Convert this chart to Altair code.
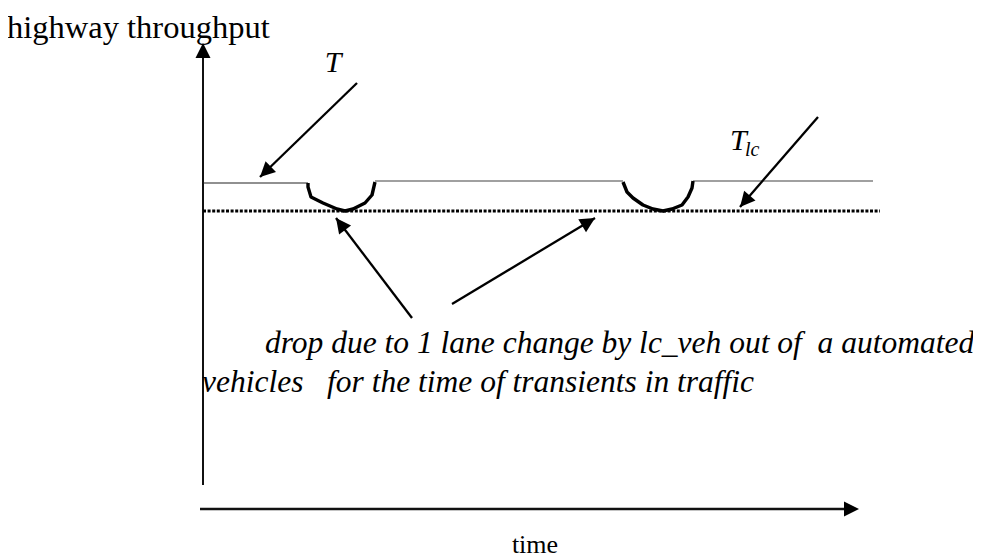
import math
import altair as alt
import pandas as pd

# ---- data (time t, throughput q, arbitrary schematic units) ----
# level of throughput T before/after the lane-change transients
T_level_t = [0, 105]
T_level_q = [326, 326]
# first transient dip
dip1_t = [105, 105, 108, 120, 134, 142, 150, 162, 169, 172]
dip1_q = [326, 322, 312, 306, 300, 298, 300, 306, 314, 327]
# throughput between / after dips
level2_t = [172, 420]
level3_t = [490, 670]
level_q = [328, 328]
# second transient dip
dip2_t = [420, 424, 430, 440, 450, 460, 469, 479, 485, 489, 490]
dip2_q = [327, 317, 311, 304, 300, 298, 300, 304, 312, 321, 328]
# reduced throughput T_lc (dotted)
Tlc_t = [0, 677]
Tlc_q = [298, 298]

# axes (start, end of shaft, arrow tip)
yaxis = dict(t=0, q0=24, q1=452, tip=466)
xaxis = dict(q=0, t0=-3, t1=642, tip=656)

# annotation arrows: start (t, q) -> tip (t, q)
arr_t0 = [154, 615, 209, 249]
arr_q0 = [426, 392, 191, 205]
arr_t1 = [57, 537, 133, 392]
arr_q1 = [332, 302, 291, 291]

X = alt.Scale(domain=[-195, 770])
Y = alt.Scale(domain=[-50, 501])
FONT = "Liberation Serif"


def xy(tf="t", qf="q"):
    return dict(x=alt.X(f"{tf}:Q", scale=X, axis=None),
                y=alt.Y(f"{qf}:Q", scale=Y, axis=None))


def line(ts, qs, **kw):
    df = pd.DataFrame({"t": ts, "q": qs, "i": range(len(ts))})
    return alt.Chart(df).mark_line(**kw).encode(order="i:Q", **xy())


layers = []

# axes shafts
ax = pd.DataFrame({
    "t": [yaxis["t"], xaxis["t0"]], "q": [yaxis["q0"], xaxis["q"]],
    "t2": [yaxis["t"], xaxis["t1"]], "q2": [yaxis["q1"], xaxis["q"]],
    "w": [2.0, 2.5]})
layers.append(alt.Chart(ax).mark_rule(color="#111").encode(
    x2="t2:Q", y2="q2:Q", strokeWidth=alt.StrokeWidth("w:Q", scale=None), **xy()))

# throughput levels and dips
layers.append(line(T_level_t, T_level_q, color="#222", strokeWidth=1.2))
layers.append(line(level2_t, level_q, color="#808080", strokeWidth=1.6))
layers.append(line(level3_t, level_q, color="#808080", strokeWidth=1.6))
layers.append(line(Tlc_t, Tlc_q, color="#000", strokeWidth=3, strokeDash=[3, 1.6]))
layers.append(line(dip1_t, dip1_q, color="#000", strokeWidth=3.4, strokeJoin="round"))
layers.append(line(dip2_t, dip2_q, color="#000", strokeWidth=3.4, strokeJoin="round"))

# annotation arrow shafts
arr = pd.DataFrame({"t": arr_t0, "q": arr_q0, "t2": arr_t1, "q2": arr_q1})
layers.append(alt.Chart(arr).mark_rule(color="#000", strokeWidth=2.3).encode(
    x2="t2:Q", y2="q2:Q", **xy()))

# arrowheads
heads_t, heads_q, heads_a = [], [], []
for a0, b0, a1, b1 in zip(arr_t0, arr_q0, arr_t1, arr_q1):
    heads_t.append(a1)
    heads_q.append(b1)
    heads_a.append(math.degrees(math.atan2(a1 - a0, b1 - b0)) % 360)
heads_t += [yaxis["t"], xaxis["tip"]]
heads_q += [yaxis["tip"], xaxis["q"]]
heads_a += [0, 90]
hd = pd.DataFrame({"t": heads_t, "q": heads_q, "a": heads_a})
layers.append(alt.Chart(hd).mark_point(
    shape="M0,0 L-0.5,1 L0.5,1 Z", filled=True, color="#000", opacity=1,
    size=900, strokeWidth=0).encode(
    angle=alt.Angle("a:Q", scale=None), **xy()))

# texts
def text(t, q, s, size, italic=False, align="left"):
    df = pd.DataFrame({"t": [t], "q": [q], "s": [s]})
    kw = dict(font=FONT, fontSize=size, align=align, baseline="alphabetic", color="#000")
    if italic:
        kw["fontStyle"] = "italic"
    return alt.Chart(df).mark_text(**kw).encode(text="s:N", **xy())


layers.append(text(-196, 471.5, "highway throughput", 32.5))
layers.append(text(332, -44, "time", 26, align="center"))
layers.append(text(130, 437, "T", 30, italic=True, align="center"))
layers.append(text(527, 359, "T", 30, italic=True))
layers.append(text(542, 353, "lc", 20, italic=True))
layers.append(text(62, 156, "drop due to 1 lane change by lc_veh out of\u00a0\u00a0a automated", 31.5, italic=True))
layers.append(text(-1, 117, "vehicles\u00a0\u00a0\u00a0for the time of transients in traffic", 31.5, italic=True))

chart = alt.layer(*layers).properties(
    width=965, height=551, autosize=alt.AutoSizeParams(type="none"), padding=0,
    background="white"
).configure_view(strokeWidth=0)

chart.save("out.html", embed_options={"renderer": "svg", "actions": False})
